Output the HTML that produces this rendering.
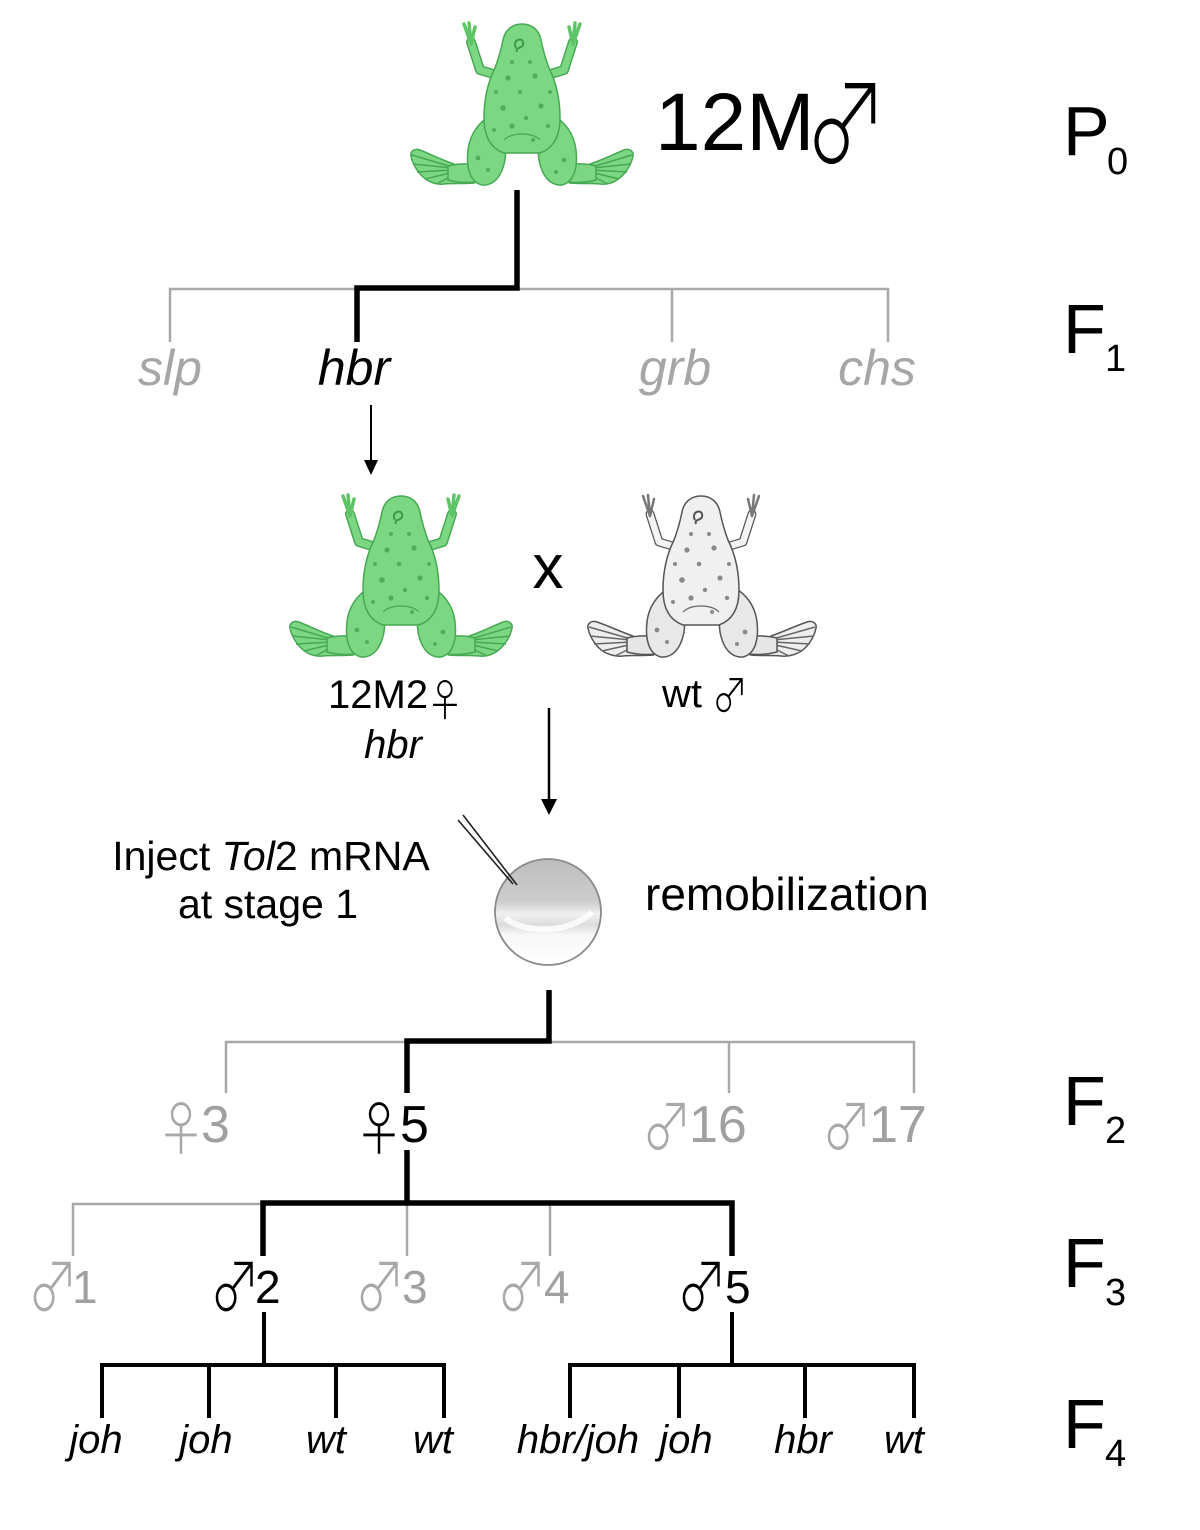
<!DOCTYPE html>
<html>
<head>
<meta charset="utf-8">
<style>
  html,body{margin:0;padding:0;background:#fff;}
  svg{display:block;}
  .t{font-family:"Liberation Sans","Noto Sans CJK JP",sans-serif;}
  .s{font-family:"Noto Sans CJK JP","DejaVu Sans",sans-serif;font-weight:300;}
</style>
</head>
<body>
<svg width="1200" height="1530" viewBox="0 0 1200 1530" xmlns="http://www.w3.org/2000/svg">
  <rect width="1200" height="1530" fill="#fff"/>
  <defs>
    <linearGradient id="egg" x1="0" y1="0" x2="0" y2="1">
      <stop offset="0" stop-color="#bdbdbd"/>
      <stop offset="0.40" stop-color="#cdcdcd"/>
      <stop offset="0.52" stop-color="#f0f0f0"/>
      <stop offset="0.62" stop-color="#dcdcdc"/>
      <stop offset="0.72" stop-color="#f8f8f8"/>
      <stop offset="1" stop-color="#ffffff"/>
    </linearGradient>
    <g id="gfrog">
      <path d="M92,56 L72,50 L63,22 M136,56 L156,50 L165,22" fill="none" stroke="#46a852" stroke-width="10" stroke-linejoin="round" stroke-linecap="round"/>
      <path d="M92,56 L72,50 L63,22 M136,56 L156,50 L165,22" fill="none" stroke="#7cd783" stroke-width="7" stroke-linejoin="round" stroke-linecap="round"/>
      <path d="M63,24 L56,4 M63,24 L61,3 M63,24 L67,7 M165,24 L172,4 M165,24 L167,3 M165,24 L161,7" fill="none" stroke="#5fc468" stroke-width="3.5" stroke-linecap="round"/>
      <g id="gleg">
        <path d="M46,144 C34,140 22,134 12,130 C6,128 2,132 3,136 C4,142 8,150 14,156 C20,162 28,165 36,164 C46,163 56,164 66,163 Z" fill="#7cd783" stroke="#46a852" stroke-width="1.5"/>
        <path d="M44,147 L4,135 M44,148 L5,144 M44,150 L9,152 M46,152 L17,159 M48,154 L28,164" fill="none" stroke="#46a852" stroke-width="1.5"/>
        <path d="M40,146 C52,143 64,143 78,147 L78,160 C64,164 52,163 40,160 Z" fill="#7cd783" stroke="#46a852" stroke-width="1.5"/>
        <path d="M88,94 C74,98 62,112 60,130 C58,148 62,162 74,165 C86,166 94,156 97,140 C99,124 98,106 88,94 Z" fill="#7cd783" stroke="#46a852" stroke-width="1.5"/>
      </g>
      <use href="#gleg" transform="matrix(-1,0,0,1,228,0)"/>
      <path d="M114,4 C124,4 131,10 133,20 C135,30 138,40 141,48 C148,62 152,80 152,98 C152,116 146,128 132,133 L96,133 C82,128 76,116 76,98 C76,80 80,62 87,48 C90,40 93,30 95,20 C97,10 104,4 114,4 Z" fill="#7cd783" stroke="#46a852" stroke-width="1.5"/>
      <path d="M96,120 C104,112 124,112 132,120" fill="none" stroke="#46a852" stroke-width="1.2"/>
      <path d="M108,28 C103,19 117,16 115,25 C113,29 107,27 109,32" fill="none" stroke="#3e9a49" stroke-width="2"/>
      <g fill="#4fae5a">
        <circle cx="100" cy="58" r="2.6"/><circle cx="127" cy="56" r="2.6"/><circle cx="112" cy="72" r="2.3"/>
        <circle cx="95" cy="88" r="2.8"/><circle cx="133" cy="86" r="2.6"/><circle cx="118" cy="98" r="2.2"/>
        <circle cx="104" cy="106" r="2.6"/><circle cx="140" cy="106" r="2.2"/><circle cx="86" cy="110" r="2"/>
        <circle cx="70" cy="138" r="2.4"/><circle cx="80" cy="150" r="2"/><circle cx="156" cy="140" r="2.4"/>
        <circle cx="148" cy="152" r="2"/><circle cx="122" cy="42" r="2"/><circle cx="104" cy="42" r="2"/>
        <circle cx="88" cy="72" r="2"/><circle cx="142" cy="72" r="2"/><circle cx="125" cy="120" r="2"/>
      </g>
    </g>
    <g id="wfrog">
      <path d="M92,56 L72,50 L63,22 M136,56 L156,50 L165,22" fill="none" stroke="#555" stroke-width="9" stroke-linejoin="round" stroke-linecap="round"/>
      <path d="M92,56 L72,50 L63,22 M136,56 L156,50 L165,22" fill="none" stroke="#f4f4f4" stroke-width="6.5" stroke-linejoin="round" stroke-linecap="round"/>
      <path d="M63,24 L56,4 M63,24 L61,3 M63,24 L67,7 M165,24 L172,4 M165,24 L167,3 M165,24 L161,7" fill="none" stroke="#777" stroke-width="2.5" stroke-linecap="round"/>
      <g id="wleg">
        <path d="M46,144 C34,140 22,134 10,130 C4,128 0,132 1,136 C2,142 6,150 12,156 C18,162 28,165 36,164 C46,163 56,164 66,163 Z" fill="#eeeeee" stroke="#555" stroke-width="1.5"/>
        <path d="M44,147 L2,135 M44,148 L3,144 M44,150 L7,152 M46,152 L15,159 M48,154 L28,164" fill="none" stroke="#666" stroke-width="1.5"/>
        <path d="M40,146 C52,143 64,143 78,147 L78,160 C64,164 52,163 40,160 Z" fill="#e6e6e6" stroke="#555" stroke-width="1.5"/>
        <path d="M88,94 C74,98 62,112 60,130 C58,148 62,162 74,165 C86,166 94,156 97,140 C99,124 98,106 88,94 Z" fill="#e8e8e8" stroke="#555" stroke-width="1.5"/>
      </g>
      <use href="#wleg" transform="matrix(-1,0,0,1,230,0)"/>
      <path d="M114,4 C124,4 131,10 133,20 C135,30 138,40 141,48 C148,62 152,80 152,98 C152,116 146,128 132,133 L96,133 C82,128 76,116 76,98 C76,80 80,62 87,48 C90,40 93,30 95,20 C97,10 104,4 114,4 Z" fill="#f0f0f0" stroke="#555" stroke-width="1.5"/>
      <path d="M96,120 C104,112 124,112 132,120" fill="none" stroke="#666" stroke-width="1.2"/>
      <path d="M108,28 C103,19 117,16 115,25 C113,29 107,27 109,32" fill="none" stroke="#555" stroke-width="2"/>
      <g fill="#8a8a8a">
        <circle cx="100" cy="58" r="2.6"/><circle cx="127" cy="56" r="2.6"/><circle cx="112" cy="72" r="2.3"/>
        <circle cx="95" cy="88" r="2.8"/><circle cx="133" cy="86" r="2.6"/><circle cx="118" cy="98" r="2.2"/>
        <circle cx="104" cy="106" r="2.6"/><circle cx="140" cy="106" r="2.2"/><circle cx="86" cy="110" r="2"/>
        <circle cx="70" cy="138" r="2.4"/><circle cx="80" cy="150" r="2"/><circle cx="158" cy="140" r="2.4"/>
        <circle cx="150" cy="152" r="2"/><circle cx="122" cy="42" r="2"/><circle cx="104" cy="42" r="2"/>
        <circle cx="88" cy="72" r="2"/><circle cx="142" cy="72" r="2"/><circle cx="125" cy="120" r="2"/>
      </g>
    </g>
  </defs>

  <!-- frogs -->
  <use href="#gfrog" transform="translate(408,20)"/>
  <use href="#gfrog" transform="translate(287,492)"/>
  <use href="#wfrog" transform="translate(587,492)"/>

  <!-- P0 -> F1 tree -->
  <g fill="none" stroke="#a8a8a8" stroke-width="2.5">
    <path d="M170,342 V289 H888 V342"/>
    <path d="M672,289 V342"/>
  </g>
  <path d="M517,190 V288 H357 V342" fill="none" stroke="#000" stroke-width="5.5" stroke-linejoin="miter"/>

  <!-- arrow 1 -->
  <path d="M371,405 V462" stroke="#000" stroke-width="2"/>
  <polygon points="364,460 378,460 371,475" fill="#000"/>

  <!-- arrow 2 -->
  <path d="M549,708 V802" stroke="#000" stroke-width="2.5"/>
  <polygon points="541,799 557,799 549,815" fill="#000"/>

  <!-- egg -->
  <circle cx="548" cy="912" r="53" fill="url(#egg)" stroke="#8a8a8a" stroke-width="1.8"/>
  <path d="M505,918 C525,934 570,934 592,912" fill="none" stroke="#ffffff" stroke-width="6" opacity="0.8"/>
  <path d="M463,815 L517,885 M458,820 L513,884" stroke="#222" stroke-width="1.6" fill="none"/>

  <!-- egg -> F2 tree -->
  <g fill="none" stroke="#a8a8a8" stroke-width="2.5">
    <path d="M226,1093 V1042 H914 V1093"/>
    <path d="M729,1042 V1093"/>
  </g>
  <path d="M549,990 V1041 H407 V1093" fill="none" stroke="#000" stroke-width="5.5"/>

  <!-- F2 -> F3 tree -->
  <path d="M407,1150 V1203" fill="none" stroke="#000" stroke-width="5.5"/>
  <g fill="none" stroke="#a8a8a8" stroke-width="2.5">
    <path d="M73,1256 V1204 H263"/>
    <path d="M407,1204 V1256"/>
    <path d="M550,1204 V1256"/>
  </g>
  <path d="M263,1256 V1203 H732 V1256" fill="none" stroke="#000" stroke-width="5.5"/>

  <!-- F3 -> F4 trees -->
  <g fill="none" stroke="#000" stroke-width="4">
    <path d="M264,1312 V1365"/>
    <path d="M732,1312 V1365"/>
    <path d="M102,1418 V1365 H444 V1418"/>
    <path d="M209,1365 V1418"/>
    <path d="M336,1365 V1418"/>
    <path d="M570,1418 V1365 H914 V1418"/>
    <path d="M679,1365 V1418"/>
    <path d="M805,1365 V1418"/>
  </g>

  <!-- generation labels -->
  <g class="t" fill="#000">
    <text x="1063" y="155" font-size="70">P</text><text x="1107" y="174" font-size="38">0</text>
    <text x="1063" y="353" font-size="70">F</text><text x="1105" y="371" font-size="38">1</text>
    <text x="1063" y="1125" font-size="70">F</text><text x="1105" y="1143" font-size="38">2</text>
    <text x="1063" y="1287" font-size="70">F</text><text x="1105" y="1305" font-size="38">3</text>
    <text x="1063" y="1448" font-size="70">F</text><text x="1105" y="1466" font-size="38">4</text>
  </g>

  <!-- top label -->
  <text class="t" x="655" y="150" font-size="82" fill="#000">12M</text>
  <text class="s" transform="translate(846,164) scale(0.9,1.2)" font-size="92" fill="#000" text-anchor="middle">♂</text>

  <!-- F1 labels -->
  <g class="t" font-size="50" font-style="italic" text-anchor="middle">
    <text x="170" y="385" fill="#a6a6a6">slp</text>
    <text x="354" y="385" fill="#000">hbr</text>
    <text x="675" y="385" fill="#a6a6a6">grb</text>
    <text x="877" y="385" fill="#a6a6a6">chs</text>
  </g>

  <!-- cross -->
  <text class="t" x="548" y="588" font-size="62" text-anchor="middle" fill="#000">x</text>
  <text class="t" x="328" y="708" font-size="40" fill="#000">12M2</text>
  <text class="s" transform="translate(445,716) scale(0.85,1)" font-size="44" text-anchor="middle" fill="#000">♀</text>
  <text class="t" x="393" y="758" font-size="40" font-style="italic" text-anchor="middle" fill="#000">hbr</text>
  <text class="t" x="662" y="707" font-size="40" fill="#000">wt</text>
  <text class="s" transform="translate(730,712) scale(0.9,1.15)" font-size="40" text-anchor="middle" fill="#000">♂</text>

  <!-- injection text -->
  <text class="t" x="271" y="870" font-size="41" text-anchor="middle" fill="#000">Inject <tspan font-style="italic">Tol</tspan>2 mRNA</text>
  <text class="t" x="268" y="918" font-size="41" text-anchor="middle" fill="#000">at stage 1</text>
  <text class="t" x="645" y="910" font-size="46" fill="#000">remobilization</text>

  <!-- F2 labels -->
  <g class="s" font-size="58" text-anchor="middle">
    <text transform="translate(181,1150) scale(0.85,1)" fill="#a8a8a8">♀</text>
    <text transform="translate(379,1150) scale(0.85,1)" fill="#000">♀</text>
  </g>
  <g class="s" font-size="56" text-anchor="middle">
    <text transform="translate(667,1150) scale(0.9,1.15)" fill="#a8a8a8">♂</text>
    <text transform="translate(847,1150) scale(0.9,1.15)" fill="#a8a8a8">♂</text>
  </g>
  <g class="t" font-size="52">
    <text x="201" y="1142" fill="#a0a0a0">3</text>
    <text x="400" y="1142" fill="#000">5</text>
    <text x="689" y="1142" fill="#a0a0a0">16</text>
    <text x="869" y="1142" fill="#a0a0a0">17</text>
  </g>

  <!-- F3 labels -->
  <g class="s" font-size="56" text-anchor="middle">
    <text transform="translate(53,1311) scale(0.9,1.2)" fill="#a8a8a8">♂</text>
    <text transform="translate(235,1311) scale(0.9,1.2)" fill="#000">♂</text>
    <text transform="translate(380,1311) scale(0.9,1.2)" fill="#a8a8a8">♂</text>
    <text transform="translate(522,1311) scale(0.9,1.2)" fill="#a8a8a8">♂</text>
    <text transform="translate(702,1311) scale(0.9,1.2)" fill="#000">♂</text>
  </g>
  <g class="t" font-size="46">
    <text x="72" y="1303" fill="#a0a0a0">1</text>
    <text x="255" y="1303" fill="#000">2</text>
    <text x="402" y="1303" fill="#a0a0a0">3</text>
    <text x="544" y="1303" fill="#a0a0a0">4</text>
    <text x="725" y="1303" fill="#000">5</text>
  </g>

  <!-- F4 labels -->
  <g class="t" font-size="40" font-style="italic" text-anchor="middle" fill="#000">
    <text x="96" y="1453">joh</text>
    <text x="206" y="1453">joh</text>
    <text x="326" y="1453">wt</text>
    <text x="433" y="1453">wt</text>
    <text x="578" y="1453">hbr/joh</text>
    <text x="686" y="1453">joh</text>
    <text x="803" y="1453">hbr</text>
    <text x="904" y="1453">wt</text>
  </g>
</svg>
</body>
</html>
